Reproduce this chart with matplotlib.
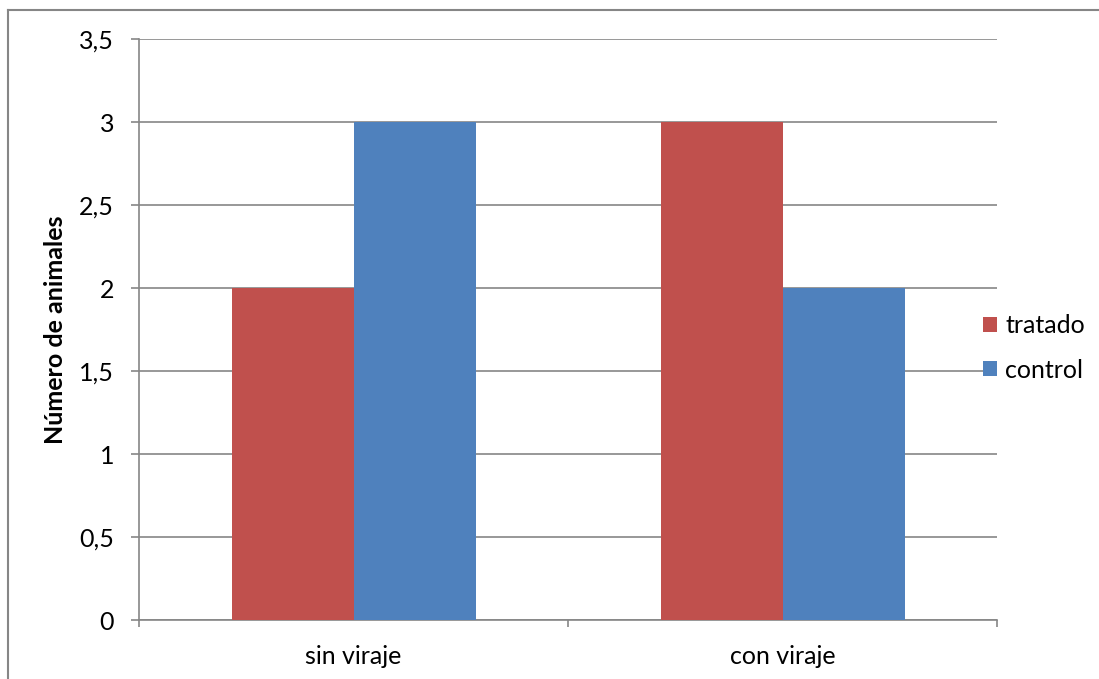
import matplotlib
matplotlib.use("Agg")
import matplotlib.pyplot as plt
import numpy as np
from matplotlib.lines import Line2D

categories = ["sin viraje", "con viraje"]
tratado = [2, 3]
control = [3, 2]
series_names = ["tratado", "control"]
yticks = [0, 0.5, 1, 1.5, 2, 2.5, 3, 3.5]
ytick_labels = ["0", "0,5", "1", "1,5", "2", "2,5", "3", "3,5"]

plt.rcParams['font.family'] = ['Lato', 'DejaVu Sans']
FS = 18
fig = plt.figure(figsize=(10.99, 6.79), dpi=100)
W, H = 1099, 679
ax = fig.add_axes([139 / W, 1 - 620 / H, (997 - 139) / W, (620 - 39) / H])

red = "#C0504D"
blue = "#4F81BD"
grid_c = "#868686"

x = np.arange(len(categories))
bw = 122 / 429
ax.bar(x - bw / 2, tratado, width=bw, color=red, label=series_names[0], zorder=3)
ax.bar(x + bw / 2, control, width=bw, color=blue, label=series_names[1], zorder=3)

ax.set_xlim(-0.5, 1.5)
ax.set_ylim(0, 3.5)
ax.set_yticks(yticks)
ax.set_yticklabels(ytick_labels, fontsize=FS)
ax.set_xticks([-0.5, 0.5, 1.5], minor=False)
ax.set_xticklabels(["", "", ""])
ax.set_xticks(x, minor=True)
ax.set_xticklabels(categories, minor=True, fontsize=FS)
ax.tick_params(axis='x', which='minor', length=0, pad=18)
ax.tick_params(axis='x', which='major', length=5, color=grid_c, width=1.2, direction='out')
ax.tick_params(axis='y', length=6, color=grid_c, width=1.2, pad=12)
ax.yaxis.grid(True, color=grid_c, linewidth=1.2, zorder=0)
ax.set_axisbelow(True)
for s in ['top', 'right']:
    ax.spines[s].set_visible(False)
for s in ['left', 'bottom']:
    ax.spines[s].set_color(grid_c)
    ax.spines[s].set_linewidth(1.2)

ax.set_ylabel("Número de animales", fontsize=FS, fontweight='bold')
ax.yaxis.set_label_coords((67 - 139) / (997 - 139), 0.5)

leg = fig.legend(loc='center left', bbox_to_anchor=(983 / W, 1 - 348 / H),
                 bbox_transform=fig.transFigure, frameon=False,
                 fontsize=FS, handlelength=0.56, handleheight=0.56, handletextpad=0.32,
                 labelspacing=0.85, borderaxespad=0, borderpad=0)

# outer frame (left and top visible)
fig.add_artist(Line2D([8 / W, 8 / W], [0, 1 - 10 / H], transform=fig.transFigure, color=grid_c, linewidth=1.5))
fig.add_artist(Line2D([8 / W, 1], [1 - 10 / H, 1 - 10 / H], transform=fig.transFigure, color=grid_c, linewidth=1.5))

fig.savefig("out.png", dpi=100)
